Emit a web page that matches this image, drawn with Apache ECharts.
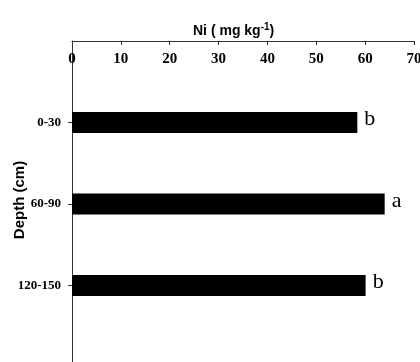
<!DOCTYPE html>
<html>
<head>
<meta charset="utf-8">
<script src="https://cdn.jsdelivr.net/npm/echarts@6/dist/echarts.min.js"></script>
<style>
  html, body { margin: 0; padding: 0; background: #fff; }
  #chart { width: 420px; height: 362px; }
</style>
</head>
<body>
<div id="chart"></div>
<script>
// Depth classes (top to bottom), Ni concentration and significance letters
const depths = ['0-30', '60-90', '120-150'];
const niValues = [58.4, 64.0, 60.1];
const sigLetters = ['b', 'a', 'b'];
const xTicks = { min: 0, max: 70, interval: 10 };

// empty slots above and below keep the bars spaced like the original layout
const categories = [''].concat(depths, ['']);
const barData = ['-'].concat(niValues, ['-']);
const letterData = [''].concat(sigLetters, ['']);

const chart = echarts.init(document.getElementById('chart'), null, { renderer: 'canvas' });

chart.setOption({
  animation: false,
  backgroundColor: '#ffffff',
  title: {
    text: 'Ni ( mg kg{sup|-1})',
    left: 188,
    top: 17,
    textStyle: {
      fontFamily: 'Liberation Sans, Arial, sans-serif',
      fontWeight: 'bold',
      fontSize: 14,
      color: '#000',
      rich: {
        sup: {
          fontFamily: 'Liberation Sans, Arial, sans-serif',
          fontWeight: 'bold',
          fontSize: 10,
          color: '#000',
          verticalAlign: 'top',
          padding: [0, 0, 8, 0]
        }
      }
    }
  },
  // vertical axis title
  graphic: [{
    type: 'text',
    x: 20,
    y: 200,
    rotation: Math.PI / 2,
    style: {
      text: 'Depth (cm)',
      fontFamily: 'Liberation Sans, Arial, sans-serif',
      fontWeight: 'bold',
      fontSize: 15,
      fill: '#000',
      align: 'center',
      verticalAlign: 'middle'
    }
  }],
  grid: { left: 72, right: 6, top: 41, bottom: -5, containLabel: false, outerBoundsMode: 'none' },
  xAxis: {
    type: 'value',
    position: 'top',
    min: xTicks.min,
    max: xTicks.max,
    interval: xTicks.interval,
    axisLine: { show: true, lineStyle: { color: '#333', width: 1 } },
    axisTick: { show: true, inside: true, length: 4, lineStyle: { color: '#333' } },
    axisLabel: {
      inside: true,
      margin: 11,
      fontFamily: 'Liberation Serif, Times New Roman, serif',
      fontWeight: 'bold',
      fontSize: 15,
      color: '#000'
    },
    splitLine: { show: false }
  },
  yAxis: {
    type: 'category',
    inverse: true,
    boundaryGap: false,
    data: categories,
    axisLine: { show: true, lineStyle: { color: '#333', width: 1 } },
    axisTick: {
      show: true,
      length: 4,
      lineStyle: { color: '#333' },
      interval: function (idx, val) { return val !== ''; }
    },
    axisLabel: {
      margin: 11,
      fontFamily: 'Liberation Serif, Times New Roman, serif',
      fontWeight: 'bold',
      fontSize: 13,
      color: '#000'
    },
    splitLine: { show: false }
  },
  series: [{
    type: 'bar',
    data: barData,
    barWidth: 21,
    itemStyle: { color: '#000' },
    label: {
      show: true,
      position: 'right',
      distance: 7,
      offset: [0, -3],
      fontFamily: 'Liberation Serif, Times New Roman, serif',
      fontSize: 22,
      color: '#000',
      formatter: function (p) { return letterData[p.dataIndex]; }
    }
  }]
});
</script>
</body>
</html>
